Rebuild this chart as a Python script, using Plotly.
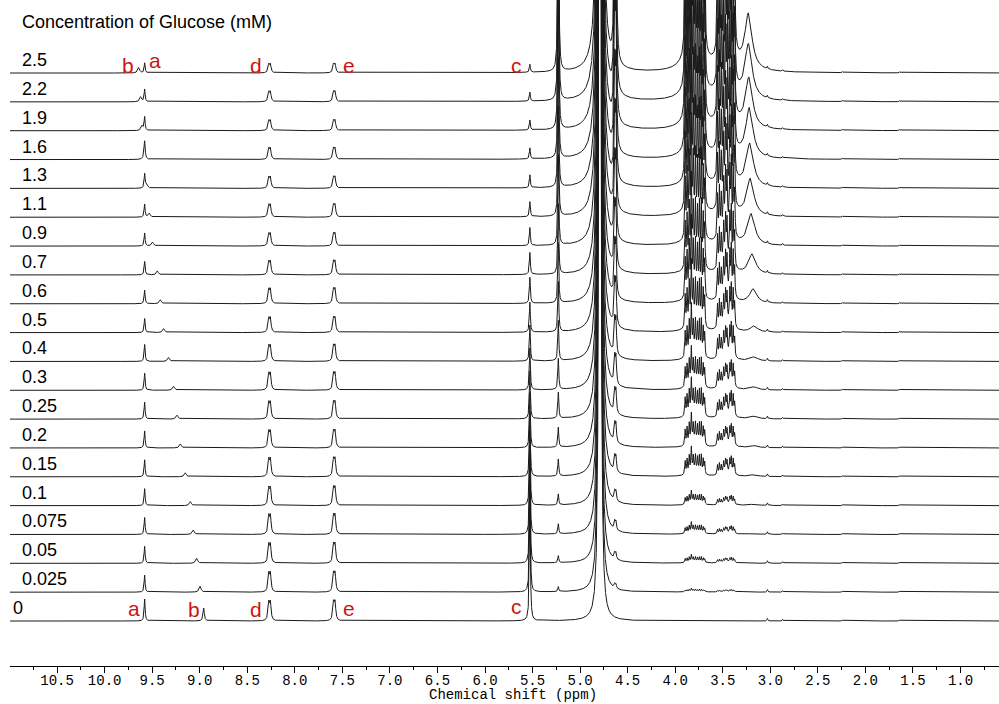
import numpy as np
import plotly.graph_objects as go

# ---------------- data ----------------
conc_labels = ["0", "0.025", "0.05", "0.075", "0.1", "0.15", "0.2", "0.25", "0.3", "0.4",
               "0.5", "0.6", "0.7", "0.9", "1.1", "1.3", "1.6", "1.9", "2.2", "2.5"]
offset_step = 28.84            # vertical spacing between spectra (intensity units)

# peak a (fixed position)
a_pos = 9.579
a_height = [22, 17, 17, 17, 17, 17, 17, 17, 17, 17, 14, 13.5, 13.5, 13, 13, 14, 14, 13.5, 12.5, 10]
# peak b (moves with glucose)
b_pos = [8.958, 8.996, 9.032, 9.067, 9.098, 9.151, 9.203, 9.238, 9.274, 9.327,
         9.379, 9.414, 9.445, 9.495, 9.530, 9.558, 9.582, 9.606, 9.621, 9.642]
b_height = [13, 6, 5, 4.5, 4, 4, 4, 4, 4, 4, 4, 4, 4, 4, 4, 4.5, 5, 5, 5, 5.5]
# peaks d and e (doublets)
d_pos = [8.274, 8.257]
d_height = [17, 17, 17, 17, 16, 16, 15, 15, 15, 14, 13, 13, 12, 11, 11, 10, 10, 9, 9, 8]
e_pos = [7.593, 7.577]
e_height = [17, 17, 17, 17, 16, 16, 15, 15, 15, 14, 13, 13, 12, 11, 11, 10, 10, 9, 9, 8]
# peak c
c_pos = 5.528
c_height = [130, 110, 95, 85, 75, 65, 55, 48, 42, 36, 30, 26, 22, 18, 15, 13, 11, 10, 9, 8]
# glucose anomeric peaks
alpha_pos = 5.229
alpha_height = [0, 5, 7, 10, 11, 17, 20, 26, 31, 40, 50, 60, 70, 90, 110, 130, 160, 190, 220, 250]
beta_pos = [4.636, 4.623]
beta_height = [0, 4, 6, 8, 9, 14, 17, 21, 25, 32, 40, 48, 56, 72, 88, 104, 128, 152, 176, 200]
# water (height of its flank 0.1 ppm from the centre)
water_pos = 4.792
water_tail = [10, 11, 12, 13, 14, 15, 16, 17, 18, 19, 20, 21, 22, 24, 26, 27, 28, 29, 30, 30]
# glucose ring-proton multiplets: height of the 3.83 ppm line per spectrum
glc_scale = [0, 3, 7, 10, 12, 24, 28, 33, 35, 46, 58, 70, 81, 104, 127, 150, 184, 219, 253, 288]
glc_pos = [3.895, 3.875, 3.852, 3.830, 3.810, 3.787, 3.765, 3.745, 3.725, 3.705, 3.690,
           3.555, 3.535, 3.515, 3.490, 3.470, 3.455, 3.425, 3.410, 3.390, 3.375]
glc_rel = [0.55, 0.60, 0.70, 1.00, 0.60, 0.65, 0.60, 0.70, 0.75, 0.60, 0.50,
           0.40, 0.45, 0.35, 0.45, 0.50, 0.45, 0.55, 0.65, 0.60, 0.40]
glc_broad_pos = [3.80, 3.46]
glc_broad_rel = [0.22, 0.18]
# broad peak near 3.2 ppm
p32_pos = [3.17, 3.17, 3.17, 3.17, 3.17, 3.17, 3.17, 3.17, 3.17, 3.17,
           3.17, 3.18, 3.19, 3.20, 3.21, 3.215, 3.22, 3.225, 3.23, 3.23]
p32_height = [0, 0, 0, 1, 1.5, 2, 2, 2.5, 3, 4, 6, 14, 20, 31, 37, 43, 49, 50, 54, 55]
# small impurity peaks
minor_pos = [3.03, 2.87, 2.24, 1.64]
minor_height = [2.5, 1.5, 1.0, 1.0]

# axis tick values / labels
x_ticks = [10.5, 10.0, 9.5, 9.0, 8.5, 8.0, 7.5, 7.0, 6.5, 6.0, 5.5, 5.0, 4.5, 4.0, 3.5, 3.0, 2.5, 2.0, 1.5, 1.0]
x_tick_text = ["%.1f" % v for v in x_ticks]

# peak letters (ppm position)
top_letters = [("b", 9.754), ("a", 9.470), ("d", 8.408), ("e", 7.430), ("c", 5.664)]
bottom_letters = [("a", 9.696), ("b", 9.055), ("d", 8.408), ("e", 7.425), ("c", 5.664)]

# ---------------- build spectra ----------------
X_MIN, X_MAX = 0.595, 10.995
ppm = np.arange(X_MIN, X_MAX + 0.0005, 0.001)


def lor(x0, h, w):
    return h * w * w / ((ppm - x0) ** 2 + w * w)


fig = go.Figure()
for i, lab in enumerate(conc_labels):
    s = np.zeros_like(ppm)
    s += lor(a_pos, a_height[i], 0.006)
    s += lor(b_pos[i], b_height[i], 0.008 if i == 0 else 0.012)
    for p in d_pos:
        s += lor(p, d_height[i], 0.009)
    for p in e_pos:
        s += lor(p, e_height[i], 0.009)
    s += lor(c_pos, c_height[i], 0.006)
    s += lor(alpha_pos, alpha_height[i], 0.006)
    for p in beta_pos:
        s += lor(p, beta_height[i], 0.007)
    ww = 0.004
    s += water_tail[i] * (0.1 ** 2 + ww ** 2) / ((ppm - water_pos) ** 2 + ww ** 2)
    for p, r in zip(glc_pos, glc_rel):
        s += lor(p, glc_scale[i] * r, 0.005)
    for p, r in zip(glc_broad_pos, glc_broad_rel):
        s += lor(p, glc_scale[i] * r, 0.06)
    s += lor(p32_pos[i], p32_height[i], 0.045)
    for p, h in zip(minor_pos, minor_height):
        s += lor(p, h, 0.005)
    y = i * offset_step + s
    fig.add_trace(go.Scatter(x=ppm.astype(np.float32), y=y.astype(np.float32), mode="lines",
                             line=dict(color="#1a1a1a", width=1), hoverinfo="skip",
                             showlegend=False, name=lab))

# ---------------- annotations ----------------
Y_MIN, Y_MAX = -45, 621
PLOT_W = 989.0
annotations = []
for i, lab in enumerate(conc_labels):
    annotations.append(dict(x=(1 if lab == "0" else 10) / PLOT_W,
                            xref="paper", y=i * offset_step + 13, yref="y",
                            text=lab, showarrow=False, xanchor="left", yanchor="middle",
                            font=dict(family="Arial, Liberation Sans", size=18, color="#000")))
annotations.append(dict(x=10 / PLOT_W, xref="paper", y=Y_MAX - 22, yref="y",
                        text="Concentration of Glucose (mM)", showarrow=False,
                        xanchor="left", yanchor="middle",
                        font=dict(family="Arial, Liberation Sans", size=18, color="#000")))
red = "#cc1414"
for (t, xp), yy in zip(top_letters, [621 - 65, 621 - 60, 621 - 65, 621 - 65, 621 - 65]):
    annotations.append(dict(x=xp, y=yy, xref="x", yref="y", text=t, showarrow=False,
                            xanchor="center", yanchor="middle",
                            font=dict(family="Arial, Liberation Sans", size=21, color=red)))
for (t, xp), yy in zip(bottom_letters, [621 - 608, 621 - 609, 621 - 609, 621 - 608, 621 - 606]):
    annotations.append(dict(x=xp, y=yy, xref="x", yref="y", text=t, showarrow=False,
                            xanchor="center", yanchor="middle",
                            font=dict(family="Arial, Liberation Sans", size=21, color=red)))
annotations.append(dict(x=(513 - 10) / PLOT_W, xref="paper", y=(666 - 704) / 666.0, yref="paper",
                        text="Chemical shift (ppm)", showarrow=False, xanchor="center",
                        yanchor="bottom", borderpad=0,
                        font=dict(family="Liberation Mono, Courier New, monospace", size=14,
                                  color="#000")))

fig.update_layout(
    width=999, height=704,
    margin=dict(l=10, r=0, t=0, b=38),
    paper_bgcolor="white", plot_bgcolor="white",
    annotations=annotations,
    showlegend=False,
    xaxis=dict(range=[X_MAX, X_MIN], showgrid=False, zeroline=False,
               showline=True, linecolor="black", linewidth=1,
               ticks="outside", ticklen=6, tickwidth=1, tickcolor="black",
               tickvals=x_ticks, ticktext=x_tick_text, ticklabelstandoff=-5,
               minor=dict(dtick=0.25, tick0=0, ticks="outside", ticklen=3, tickcolor="black"),
               tickfont=dict(family="Liberation Mono, Courier New, monospace", size=14, color="#000")),
    yaxis=dict(range=[Y_MIN, Y_MAX], visible=False, showgrid=False, zeroline=False),
)

fig.write_html("out.html")
